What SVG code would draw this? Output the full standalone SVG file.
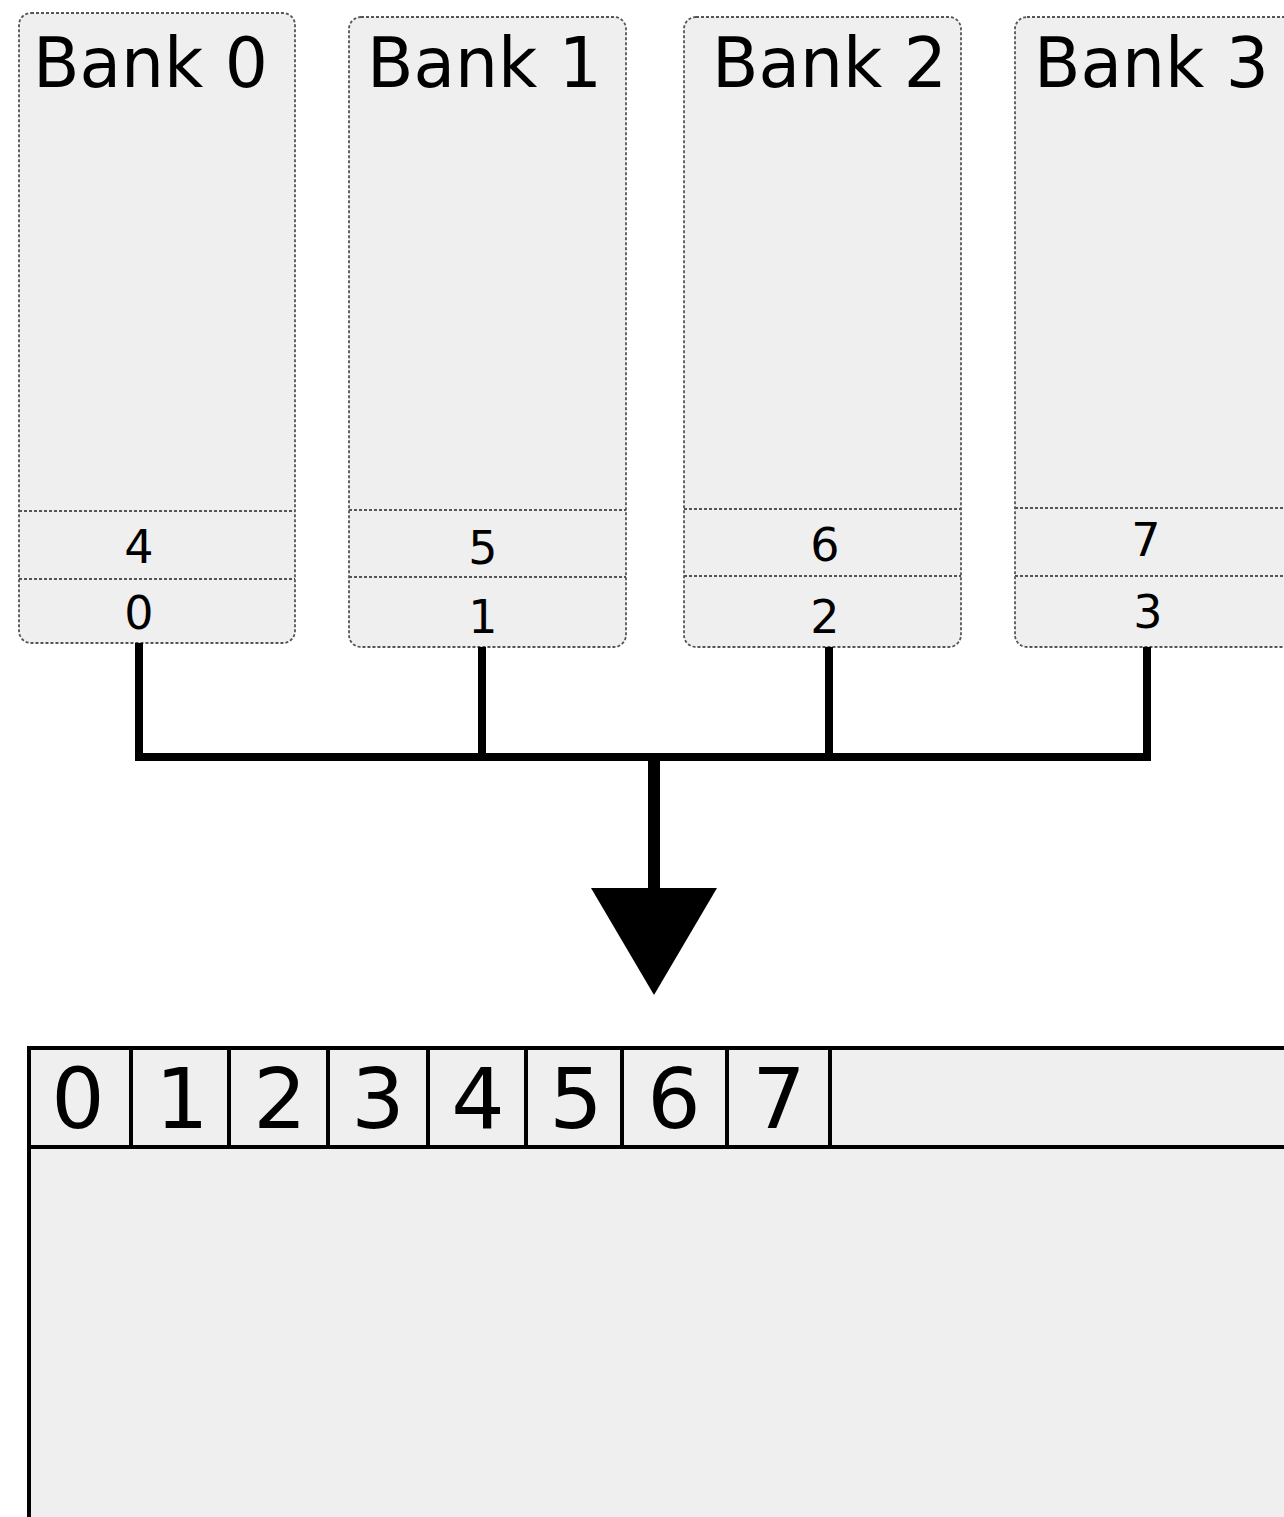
<svg xmlns="http://www.w3.org/2000/svg" width="1284" height="1517" viewBox="0 0 1284 1517">
<style>
.bank{fill:#efefef;stroke:#555;stroke-width:1.8;stroke-dasharray:3 2}
.div{stroke:#555;stroke-width:1.8;stroke-dasharray:3 2;fill:none}
.title{font-family:"DejaVu Sans",Verdana,sans-serif;font-size:70px;fill:#000}
.num{font-family:"DejaVu Sans",Verdana,sans-serif;font-size:46px;fill:#000;text-anchor:middle}
.big{font-family:"DejaVu Sans",Verdana,sans-serif;font-size:84px;fill:#000;text-anchor:middle}
.wire{stroke:#000;stroke-width:8;fill:none}
.stem{stroke:#000;stroke-width:12;fill:none}
.cell{stroke:#000;stroke-width:4;fill:none}
.panel{stroke:#000;stroke-width:4;fill:#efefef}
</style>
<rect width="1284" height="1517" fill="#fff"/>
<g id="bank0">
<rect class="bank" x="19" y="13" width="276" height="630" rx="12"/>
<line class="div" x1="19" y1="511" x2="295" y2="511"/>
<line class="div" x1="19" y1="579" x2="295" y2="579"/>
<text class="title" x="33" y="87" textLength="235" lengthAdjust="spacingAndGlyphs">Bank 0</text>
<text class="num" x="139" y="563">4</text>
<text class="num" x="139" y="629">0</text>
</g>
<g id="bank1">
<rect class="bank" x="349" y="17" width="277" height="630" rx="12"/>
<line class="div" x1="349" y1="510" x2="626" y2="510"/>
<line class="div" x1="349" y1="577" x2="626" y2="577"/>
<text class="title" x="367" y="87" textLength="235" lengthAdjust="spacingAndGlyphs">Bank 1</text>
<text class="num" x="483" y="564">5</text>
<text class="num" x="483" y="633">1</text>
</g>
<g id="bank2">
<rect class="bank" x="684" y="17" width="277" height="630" rx="12"/>
<line class="div" x1="684" y1="509" x2="961" y2="509"/>
<line class="div" x1="684" y1="576" x2="961" y2="576"/>
<text class="title" x="712" y="87" textLength="235" lengthAdjust="spacingAndGlyphs">Bank 2</text>
<text class="num" x="825" y="561">6</text>
<text class="num" x="825" y="633">2</text>
</g>
<g id="bank3">
<rect class="bank" x="1015" y="17" width="290" height="630" rx="12"/>
<line class="div" x1="1015" y1="508" x2="1284" y2="508"/>
<line class="div" x1="1015" y1="576" x2="1284" y2="576"/>
<text class="title" x="1034" y="87" textLength="235" lengthAdjust="spacingAndGlyphs">Bank 3</text>
<text class="num" x="1146" y="556">7</text>
<text class="num" x="1148" y="628">3</text>
</g>
<g id="connectors">
<path class="wire" d="M139 643V757M482 647V757M829 647V757M1147 647V757M135 757H1151"/>
<path class="stem" d="M654 757V892"/>
<polygon points="591,888 717,888 654,995" fill="#000"/>
</g>
<g id="buffer">
<rect class="panel" x="29" y="1048" width="1300" height="520"/>
<line class="cell" x1="29" y1="1147" x2="1284" y2="1147"/>
<path class="cell" d="M131 1048V1147M229 1048V1147M328 1048V1147M428 1048V1147M526 1048V1147M622 1048V1147M727 1048V1147M830 1048V1147"/>
<text class="big" x="78" y="1128">0</text>
<text class="big" x="182" y="1128">1</text>
<text class="big" x="280" y="1128">2</text>
<text class="big" x="378" y="1128">3</text>
<text class="big" x="478" y="1128">4</text>
<text class="big" x="576" y="1128">5</text>
<text class="big" x="674" y="1128">6</text>
<text class="big" x="779" y="1128">7</text>
</g>
</svg>
